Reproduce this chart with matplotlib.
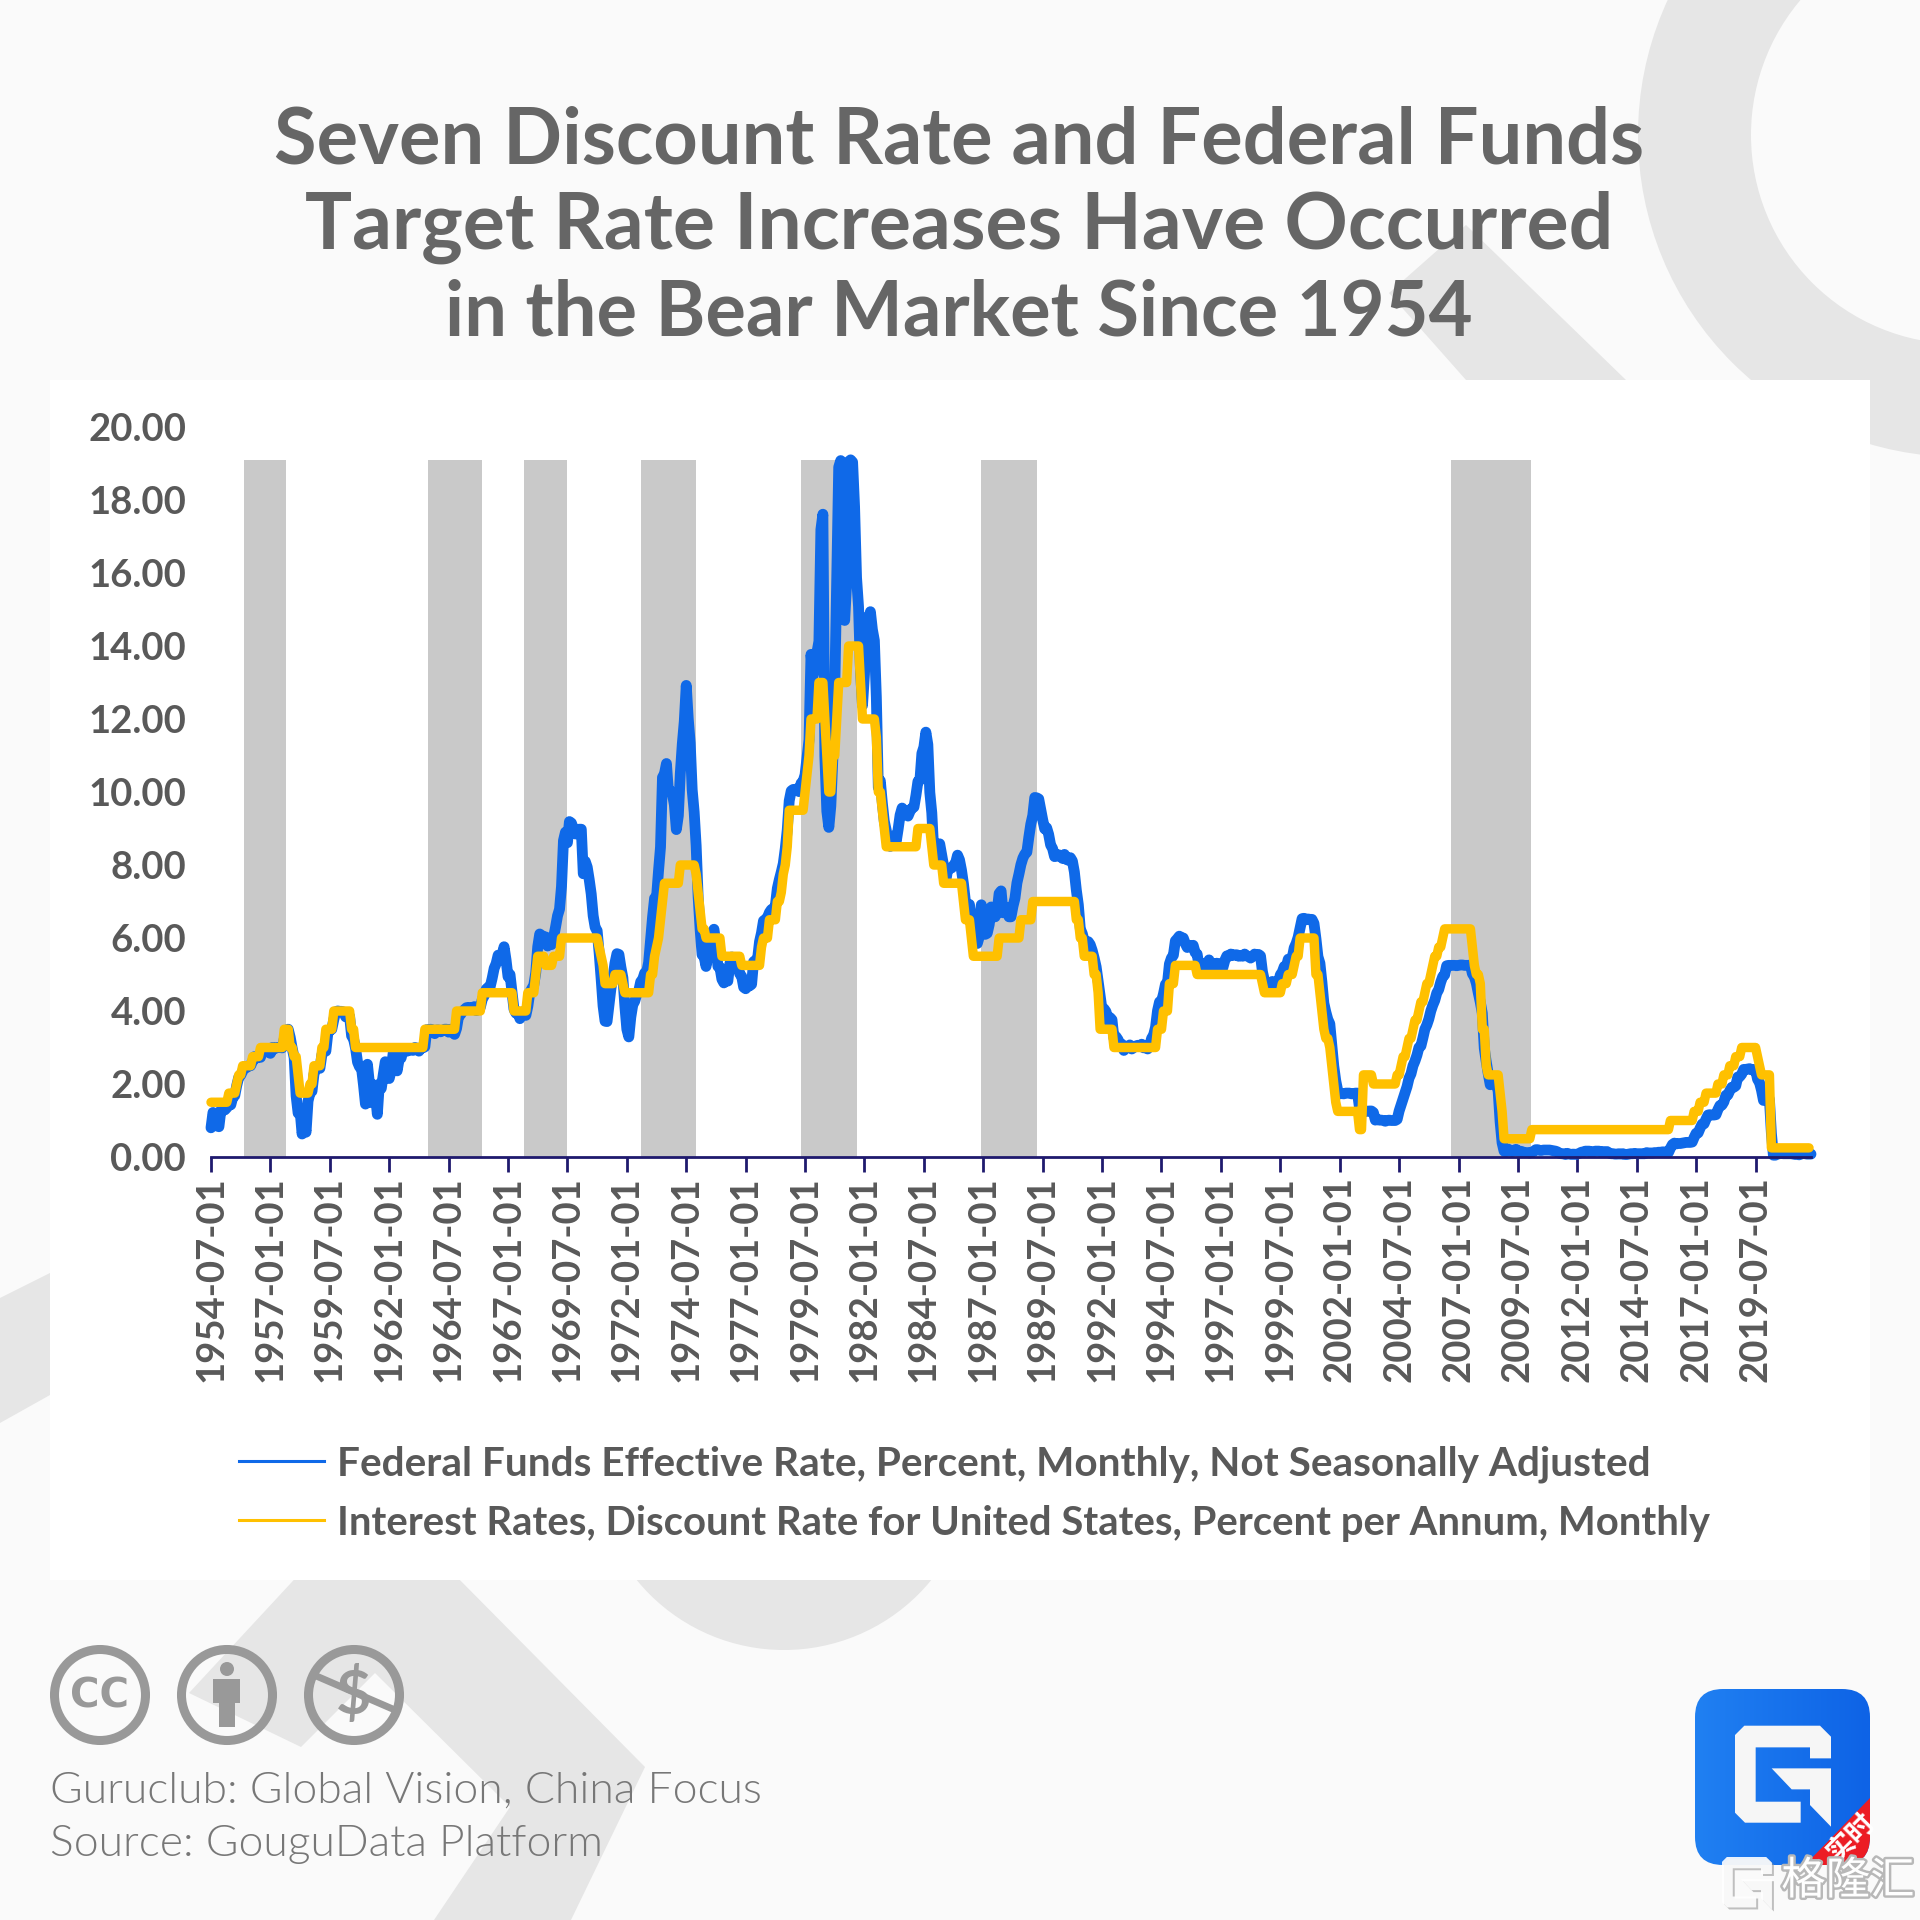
import numpy as np
import matplotlib
matplotlib.use('Agg')
import matplotlib.pyplot as plt
import matplotlib.patheffects as pe
from matplotlib.colors import LinearSegmentedColormap
from matplotlib.patches import Circle, FancyBboxPatch, Polygon, Rectangle

plt.rcParams['font.family'] = ['Lato', 'Noto Sans CJK SC', 'DejaVu Sans']

# monthly values, first month is 1954-07
fed_rate = [
    0.80, 1.22, 1.06, 0.85, 0.83, 1.28,
    1.39, 1.29, 1.35, 1.43, 1.43, 1.64, 1.68, 1.96, 2.18, 2.24, 2.35, 2.48,
    2.45, 2.50, 2.50, 2.62, 2.75, 2.71, 2.75, 2.73, 2.95, 2.96, 2.88, 2.94,
    2.84, 3.00, 2.96, 3.00, 3.00, 3.00, 2.99, 3.24, 3.47, 3.50, 3.28, 2.98,
    2.72, 1.67, 1.20, 1.26, 0.63, 0.93, 0.68, 1.53, 1.76, 1.80, 2.27, 2.42,
    2.48, 2.43, 2.80, 2.96, 2.90, 3.39, 3.47, 3.50, 3.76, 3.98, 4.00, 3.99,
    3.99, 3.97, 3.84, 3.92, 3.85, 3.32, 3.23, 2.98, 2.60, 2.47, 2.44, 1.98,
    1.45, 2.54, 2.02, 1.49, 1.98, 1.73, 1.17, 2.00, 1.88, 2.26, 2.61, 2.33,
    2.15, 2.37, 2.85, 2.78, 2.36, 2.68, 2.71, 2.93, 2.90, 2.90, 2.94, 2.93,
    2.92, 3.00, 2.98, 2.90, 3.00, 2.99, 3.02, 3.49, 3.48, 3.50, 3.48, 3.38,
    3.48, 3.48, 3.43, 3.47, 3.50, 3.50, 3.42, 3.50, 3.45, 3.36, 3.52, 3.85,
    3.90, 3.98, 4.04, 4.09, 4.10, 4.04, 4.09, 4.12, 4.01, 4.08, 4.10, 4.32,
    4.42, 4.60, 4.65, 4.67, 4.90, 5.17, 5.30, 5.53, 5.40, 5.53, 5.76, 5.40,
    4.94, 5.00, 4.53, 4.05, 3.94, 3.98, 3.79, 3.90, 3.99, 3.88, 4.13, 4.51,
    4.61, 4.71, 5.05, 5.76, 6.11, 6.07, 6.02, 6.03, 5.78, 5.91, 5.82, 6.02,
    6.30, 6.61, 6.79, 7.41, 8.67, 8.90, 8.61, 9.19, 9.15, 9.00, 8.85, 8.97,
    8.98, 8.98, 7.76, 8.10, 7.94, 7.60, 7.21, 6.61, 6.29, 6.20, 5.60, 4.90,
    4.14, 3.72, 3.71, 4.16, 4.63, 4.91, 5.31, 5.57, 5.55, 5.20, 4.91, 4.14,
    3.50, 3.29, 3.83, 4.17, 4.27, 4.46, 4.55, 4.80, 4.87, 5.04, 5.06, 5.33,
    5.94, 6.58, 7.09, 7.12, 7.84, 8.49, 10.40, 10.50, 10.78, 10.01, 10.03, 9.95,
    9.65, 8.97, 9.35, 10.51, 11.31, 11.93, 12.92, 12.01, 11.34, 10.06, 9.45, 8.53,
    7.13, 6.24, 5.54, 5.49, 5.22, 5.55, 6.10, 6.14, 6.24, 5.82, 5.22, 5.20,
    4.87, 4.77, 4.84, 4.82, 5.29, 5.48, 5.31, 5.29, 5.25, 5.02, 4.95, 4.65,
    4.61, 4.68, 4.69, 4.73, 5.35, 5.39, 5.42, 5.90, 6.14, 6.47, 6.51, 6.56,
    6.70, 6.78, 6.79, 6.89, 7.36, 7.60, 7.81, 8.04, 8.45, 8.96, 9.76, 10.03,
    10.07, 10.06, 10.09, 10.01, 10.24, 10.29, 10.47, 10.94, 11.43, 13.77, 13.18, 13.78,
    13.82, 14.13, 17.19, 17.61, 10.98, 9.47, 9.03, 9.61, 10.87, 12.81, 15.85, 18.90,
    19.08, 15.93, 14.70, 15.72, 19.05, 19.10, 19.04, 17.82, 15.87, 15.08, 13.31, 12.37,
    13.22, 14.78, 14.68, 14.94, 14.45, 14.15, 12.59, 10.12, 10.31, 9.71, 9.20, 8.95,
    8.68, 8.51, 8.77, 8.80, 8.63, 8.98, 9.37, 9.56, 9.45, 9.48, 9.34, 9.47,
    9.56, 9.59, 9.91, 10.29, 10.32, 11.06, 11.23, 11.64, 11.30, 9.99, 9.43, 8.38,
    8.35, 8.50, 8.58, 8.27, 7.97, 7.53, 7.88, 7.90, 7.92, 7.99, 8.05, 8.27,
    8.14, 7.86, 7.48, 6.99, 6.85, 6.92, 6.56, 6.17, 5.89, 5.85, 6.04, 6.91,
    6.43, 6.10, 6.13, 6.37, 6.85, 6.73, 6.58, 6.73, 7.22, 7.29, 6.69, 6.77,
    6.83, 6.58, 6.58, 6.87, 7.09, 7.51, 7.75, 8.01, 8.19, 8.30, 8.35, 8.76,
    9.12, 9.36, 9.85, 9.84, 9.81, 9.53, 9.24, 8.99, 9.02, 8.84, 8.55, 8.45,
    8.23, 8.24, 8.28, 8.26, 8.18, 8.29, 8.15, 8.13, 8.20, 8.11, 7.81, 7.31,
    6.91, 6.25, 6.12, 5.91, 5.78, 5.90, 5.82, 5.66, 5.45, 5.21, 4.81, 4.43,
    4.03, 4.06, 3.98, 3.73, 3.82, 3.76, 3.25, 3.30, 3.22, 3.10, 3.09, 2.92,
    3.02, 3.03, 3.07, 2.96, 3.00, 3.04, 3.06, 3.03, 3.09, 2.99, 3.02, 2.96,
    3.05, 3.25, 3.34, 3.56, 4.01, 4.25, 4.26, 4.47, 4.73, 4.76, 5.29, 5.45,
    5.53, 5.92, 5.98, 6.05, 6.01, 6.00, 5.85, 5.74, 5.80, 5.76, 5.80, 5.60,
    5.56, 5.22, 5.31, 5.22, 5.24, 5.27, 5.40, 5.22, 5.30, 5.24, 5.31, 5.29,
    5.25, 5.19, 5.39, 5.51, 5.50, 5.56, 5.52, 5.54, 5.54, 5.50, 5.52, 5.50,
    5.56, 5.51, 5.49, 5.45, 5.49, 5.56, 5.54, 5.55, 5.51, 5.07, 4.83, 4.68,
    4.63, 4.76, 4.81, 4.74, 4.74, 4.76, 4.99, 5.07, 5.22, 5.20, 5.42, 5.30,
    5.45, 5.73, 5.85, 6.02, 6.27, 6.53, 6.54, 6.50, 6.52, 6.51, 6.51, 6.40,
    5.98, 5.49, 5.31, 4.80, 4.21, 3.97, 3.77, 3.65, 3.07, 2.49, 2.09, 1.82,
    1.73, 1.74, 1.73, 1.75, 1.75, 1.75, 1.73, 1.74, 1.75, 1.75, 1.34, 1.24,
    1.24, 1.26, 1.25, 1.26, 1.26, 1.22, 1.01, 1.03, 1.01, 1.01, 1.00, 0.98,
    1.00, 1.01, 1.00, 1.00, 1.00, 1.03, 1.26, 1.43, 1.61, 1.76, 1.93, 2.16,
    2.28, 2.50, 2.63, 2.79, 3.00, 3.04, 3.26, 3.50, 3.62, 3.78, 4.00, 4.16,
    4.29, 4.49, 4.59, 4.79, 4.94, 4.99, 5.24, 5.25, 5.25, 5.25, 5.25, 5.24,
    5.25, 5.26, 5.26, 5.25, 5.25, 5.25, 5.26, 5.02, 4.94, 4.76, 4.49, 4.24,
    3.94, 2.98, 2.61, 2.28, 1.98, 2.00, 2.01, 2.00, 1.81, 0.97, 0.39, 0.16,
    0.15, 0.22, 0.18, 0.15, 0.18, 0.21, 0.16, 0.16, 0.15, 0.12, 0.12, 0.12,
    0.11, 0.13, 0.16, 0.20, 0.20, 0.18, 0.18, 0.19, 0.19, 0.19, 0.19, 0.18,
    0.17, 0.16, 0.14, 0.10, 0.09, 0.09, 0.07, 0.10, 0.08, 0.07, 0.08, 0.07,
    0.08, 0.10, 0.13, 0.14, 0.16, 0.16, 0.16, 0.13, 0.14, 0.16, 0.16, 0.16,
    0.14, 0.15, 0.14, 0.15, 0.11, 0.09, 0.09, 0.08, 0.08, 0.09, 0.08, 0.09,
    0.07, 0.07, 0.08, 0.09, 0.09, 0.10, 0.09, 0.09, 0.09, 0.09, 0.09, 0.12,
    0.11, 0.11, 0.11, 0.12, 0.12, 0.13, 0.13, 0.14, 0.14, 0.12, 0.12, 0.24,
    0.34, 0.38, 0.36, 0.37, 0.37, 0.38, 0.39, 0.40, 0.40, 0.40, 0.41, 0.54,
    0.65, 0.66, 0.79, 0.90, 0.91, 1.04, 1.15, 1.16, 1.15, 1.15, 1.16, 1.30,
    1.41, 1.42, 1.51, 1.69, 1.70, 1.82, 1.91, 1.91, 1.95, 2.19, 2.20, 2.27,
    2.40, 2.40, 2.41, 2.42, 2.39, 2.38, 2.40, 2.13, 2.04, 1.83, 1.55, 1.55,
    1.55, 1.58, 0.65, 0.05, 0.05, 0.08, 0.09, 0.10, 0.09, 0.09, 0.09, 0.09,
    0.09, 0.08, 0.07, 0.07, 0.06, 0.08, 0.10, 0.09, 0.08, 0.08, 0.08,
]

discount_rate = [
    1.5, 1.5, 1.5, 1.5, 1.5, 1.5,
    1.5, 1.5, 1.5, 1.75, 1.75, 1.75, 1.75, 2, 2.25, 2.25, 2.5, 2.5,
    2.5, 2.5, 2.5, 2.75, 2.75, 2.75, 2.75, 3, 3, 3, 3, 3,
    3, 3, 3, 3, 3, 3, 3, 3.5, 3.5, 3.5, 3, 3,
    2.75, 2.75, 2.25, 1.75, 1.75, 1.75, 1.75, 1.75, 2, 2, 2.5, 2.5,
    2.5, 2.5, 3, 3, 3.5, 3.5, 3.5, 3.5, 4, 4, 4, 4,
    4, 4, 4, 4, 4, 3.5, 3.5, 3, 3, 3, 3, 3,
    3, 3, 3, 3, 3, 3, 3, 3, 3, 3, 3, 3,
    3, 3, 3, 3, 3, 3, 3, 3, 3, 3, 3, 3,
    3, 3, 3, 3, 3, 3, 3.5, 3.5, 3.5, 3.5, 3.5, 3.5,
    3.5, 3.5, 3.5, 3.5, 3.5, 3.5, 3.5, 3.5, 3.5, 3.5, 4, 4,
    4, 4, 4, 4, 4, 4, 4, 4, 4, 4, 4, 4.5,
    4.5, 4.5, 4.5, 4.5, 4.5, 4.5, 4.5, 4.5, 4.5, 4.5, 4.5, 4.5,
    4.5, 4.5, 4.5, 4, 4, 4, 4, 4, 4, 4, 4.5, 4.5,
    4.5, 4.5, 5, 5.5, 5.5, 5.5, 5.5, 5.25, 5.25, 5.25, 5.25, 5.5,
    5.5, 5.5, 5.5, 6, 6, 6, 6, 6, 6, 6, 6, 6,
    6, 6, 6, 6, 6, 6, 6, 6, 6, 6, 5.75, 5.5,
    5.25, 4.75, 4.75, 4.75, 4.75, 4.75, 5, 5, 5, 5, 4.75, 4.5,
    4.5, 4.5, 4.5, 4.5, 4.5, 4.5, 4.5, 4.5, 4.5, 4.5, 4.5, 4.5,
    5, 5, 5.5, 5.75, 6, 6.5, 7, 7.5, 7.5, 7.5, 7.5, 7.5,
    7.5, 7.5, 7.5, 8, 8, 8, 8, 8, 8, 8, 8, 7.75,
    7.25, 6.75, 6.25, 6.25, 6, 6, 6, 6, 6, 6, 6, 6,
    5.5, 5.5, 5.5, 5.5, 5.5, 5.5, 5.5, 5.5, 5.5, 5.5, 5.25, 5.25,
    5.25, 5.25, 5.25, 5.25, 5.25, 5.25, 5.25, 5.25, 5.75, 6, 6, 6,
    6.5, 6.5, 6.5, 6.5, 7, 7, 7.25, 7.75, 8, 8.5, 9.5, 9.5,
    9.5, 9.5, 9.5, 9.5, 9.5, 9.5, 10, 10.5, 11, 12, 12, 12,
    12, 13, 13, 13, 12, 11, 10, 10, 11, 11, 12, 13,
    13, 13, 13, 13, 14, 14, 14, 14, 14, 14, 13, 12,
    12, 12, 12, 12, 12, 12, 11.5, 10, 10, 9.5, 9, 8.5,
    8.5, 8.5, 8.5, 8.5, 8.5, 8.5, 8.5, 8.5, 8.5, 8.5, 8.5, 8.5,
    8.5, 8.5, 8.5, 9, 9, 9, 9, 9, 9, 9, 8.5, 8,
    8, 8, 8, 8, 7.5, 7.5, 7.5, 7.5, 7.5, 7.5, 7.5, 7.5,
    7.5, 7.5, 7, 6.5, 6.5, 6.5, 6, 5.5, 5.5, 5.5, 5.5, 5.5,
    5.5, 5.5, 5.5, 5.5, 5.5, 5.5, 5.5, 5.5, 6, 6, 6, 6,
    6, 6, 6, 6, 6, 6, 6, 6.5, 6.5, 6.5, 6.5, 6.5,
    6.5, 7, 7, 7, 7, 7, 7, 7, 7, 7, 7, 7,
    7, 7, 7, 7, 7, 7, 7, 7, 7, 7, 7, 6.5,
    6.5, 6, 6, 5.5, 5.5, 5.5, 5.5, 5.5, 5, 5, 4.5, 3.5,
    3.5, 3.5, 3.5, 3.5, 3.5, 3.5, 3, 3, 3, 3, 3, 3,
    3, 3, 3, 3, 3, 3, 3, 3, 3, 3, 3, 3,
    3, 3, 3, 3, 3.5, 3.5, 3.5, 4, 4, 4, 4.75, 4.75,
    4.75, 5.25, 5.25, 5.25, 5.25, 5.25, 5.25, 5.25, 5.25, 5.25, 5.25, 5.25,
    5, 5, 5, 5, 5, 5, 5, 5, 5, 5, 5, 5,
    5, 5, 5, 5, 5, 5, 5, 5, 5, 5, 5, 5,
    5, 5, 5, 5, 5, 5, 5, 5, 5, 4.75, 4.5, 4.5,
    4.5, 4.5, 4.5, 4.5, 4.5, 4.5, 4.5, 4.75, 4.75, 4.75, 5, 5,
    5, 5.25, 5.5, 5.5, 6, 6, 6, 6, 6, 6, 6, 6,
    5, 5, 4.5, 4, 3.5, 3.25, 3.25, 3, 2.5, 2, 1.5, 1.25,
    1.25, 1.25, 1.25, 1.25, 1.25, 1.25, 1.25, 1.25, 1.25, 1.25, 0.75, 0.75,
    2.25, 2.25, 2.25, 2.25, 2.25, 2, 2, 2, 2, 2, 2, 2,
    2, 2, 2, 2, 2, 2.25, 2.25, 2.5, 2.75, 2.75, 3, 3.25,
    3.25, 3.5, 3.75, 3.75, 4, 4.25, 4.25, 4.5, 4.75, 4.75, 5, 5.25,
    5.5, 5.5, 5.75, 5.75, 6, 6.25, 6.25, 6.25, 6.25, 6.25, 6.25, 6.25,
    6.25, 6.25, 6.25, 6.25, 6.25, 6.25, 6.25, 5.75, 5.25, 5, 5, 4.75,
    3.5, 3.5, 2.5, 2.25, 2.25, 2.25, 2.25, 2.25, 2.25, 1.75, 1.25, 0.5,
    0.5, 0.5, 0.5, 0.5, 0.5, 0.5, 0.5, 0.5, 0.5, 0.5, 0.5, 0.5,
    0.5, 0.75, 0.75, 0.75, 0.75, 0.75, 0.75, 0.75, 0.75, 0.75, 0.75, 0.75,
    0.75, 0.75, 0.75, 0.75, 0.75, 0.75, 0.75, 0.75, 0.75, 0.75, 0.75, 0.75,
    0.75, 0.75, 0.75, 0.75, 0.75, 0.75, 0.75, 0.75, 0.75, 0.75, 0.75, 0.75,
    0.75, 0.75, 0.75, 0.75, 0.75, 0.75, 0.75, 0.75, 0.75, 0.75, 0.75, 0.75,
    0.75, 0.75, 0.75, 0.75, 0.75, 0.75, 0.75, 0.75, 0.75, 0.75, 0.75, 0.75,
    0.75, 0.75, 0.75, 0.75, 0.75, 0.75, 0.75, 0.75, 0.75, 0.75, 0.75, 1,
    1, 1, 1, 1, 1, 1, 1, 1, 1, 1, 1, 1.25,
    1.25, 1.25, 1.5, 1.5, 1.5, 1.75, 1.75, 1.75, 1.75, 1.75, 1.75, 2,
    2, 2, 2.25, 2.25, 2.25, 2.5, 2.5, 2.5, 2.75, 2.75, 2.75, 3,
    3, 3, 3, 3, 3, 3, 3, 2.75, 2.5, 2.25, 2.25, 2.25,
    2.25, 2.25, 0.25, 0.25, 0.25, 0.25, 0.25, 0.25, 0.25, 0.25, 0.25, 0.25,
    0.25, 0.25, 0.25, 0.25, 0.25, 0.25, 0.25, 0.25, 0.25, 0.25,
]

# bear market bands, in months since 1954-07
band_start = [16.5, 109.5, 158, 217, 298, 389, 626]
band_end = [38, 137, 180, 245, 326, 417, 666.5]
band_top = 19.1

tick_labels = ['1954-07-01', '1957-01-01', '1959-07-01', '1962-01-01', '1964-07-01', '1967-01-01',
               '1969-07-01', '1972-01-01', '1974-07-01', '1977-01-01', '1979-07-01', '1982-01-01',
               '1984-07-01', '1987-01-01', '1989-07-01', '1992-01-01', '1994-07-01', '1997-01-01',
               '1999-07-01', '2002-01-01', '2004-07-01', '2007-01-01', '2009-07-01', '2012-01-01',
               '2014-07-01', '2017-01-01', '2019-07-01']
y_ticks = [0, 2, 4, 6, 8, 10, 12, 14, 16, 18, 20]

title_lines = ['Seven Discount Rate and Federal Funds',
               'Target Rate Increases Have Occurred',
               'in the Bear Market Since 1954']
title_sizes = [55.8, 56.6, 54.6]
fed_label = 'Federal Funds Effective Rate, Percent, Monthly, Not Seasonally Adjusted'
discount_label = 'Interest Rates, Discount Rate for United States, Percent per Annum, Monthly'

BLUE = '#0f69e8'
YELLOW = '#ffc000'
DARK = '#595959'
NAVY = '#1f1a6e'
DECO = '#e6e6e6'

fig = plt.figure(figsize=(19.2, 19.2), dpi=100, facecolor='#fafafa')

# background layer, in picture pixels
bg = fig.add_axes([0, 0, 1, 1])
bg.set_xlim(0, 1920)
bg.set_ylim(1920, 0)
bg.axis('off')

bg.add_patch(Circle((1960, 135), 322, fc=DECO, ec='none'))
bg.add_patch(Circle((1960, 135), 209, fc='#fafafa', ec='none'))
bg.add_patch(Polygon([(1389, 293), (1466, 225), (1626, 380), (1466, 380)], fc=DECO, ec='none'))
bg.add_patch(Polygon([(0, 1298), (50, 1273), (50, 1395), (0, 1423)], fc=DECO, ec='none'))
bg.add_patch(Circle((784, 1460), 190, fc=DECO, ec='none'))
bg.add_patch(Polygon([(303, 1570), (450, 1570), (645, 1767), (571, 1920), (434, 1920), (510, 1807),
                      (375, 1673), (301, 1747), (189, 1693)], fc=DECO, ec='none'))
bg.add_patch(Rectangle((50, 380), 1820, 1200, fc='white', ec='none'))

for i, line in enumerate(title_lines):
    bg.text(959, 141 + i * 86.5, line, ha='center', va='center', fontsize=title_sizes[i],
            fontweight='bold', color='#666666')

# legend
bg.plot([239, 324], [1461, 1461], color=BLUE, lw=2.2)
bg.plot([239, 324], [1520, 1520], color=YELLOW, lw=2.2)
bg.text(337, 1464, fed_label, ha='left', va='center', fontsize=29.2, fontweight='bold', color=DARK)
bg.text(337, 1523, discount_label, ha='left', va='center', fontsize=28.8, fontweight='bold', color=DARK)

# cc icons
ICON = '#999999'
for cx in [100, 227, 354]:
    bg.add_patch(Circle((cx, 1695), 45.5, fc='none', ec=ICON, lw=6.5))
bg.text(100, 1697, 'CC', ha='center', va='center', fontsize=29, fontweight='bold', color=ICON, family='DejaVu Sans')
bg.add_patch(Circle((227, 1669), 7, fc=ICON, ec='none'))
bg.add_patch(Polygon([(213, 1679), (240, 1679), (240, 1703), (235, 1703), (235, 1727), (219, 1727),
                      (219, 1703), (213, 1703)], fc=ICON, ec='none'))
bg.text(354, 1695, '$', ha='center', va='center', fontsize=44, fontweight='bold', color=ICON)
bg.plot([314, 395], [1675, 1710], color=ICON, lw=5, solid_capstyle='butt')

bg.text(50, 1791, 'Guruclub: Global Vision, China Focus', ha='left', va='center',
        fontsize=32, fontweight=300, color='#777777')
bg.text(50, 1844, 'Source: GouguData Platform', ha='left', va='center',
        fontsize=32, fontweight=300, color='#777777')

# logo
logo_box = FancyBboxPatch((1720, 1714), 125, 126, boxstyle='round,pad=25,rounding_size=28', fc='none', ec='none')
bg.add_patch(logo_box)
logo_cmap = LinearSegmentedColormap.from_list('logo', ['#2080f2', '#0e63e6'])
grad = bg.imshow(np.linspace(0, 1, 64)[None, :], cmap=logo_cmap, extent=(1695, 1870, 1865, 1689), aspect='auto')
grad.set_clip_path(logo_box)
bg.set_xlim(0, 1920)
bg.set_ylim(1920, 0)
ribbon = Polygon([(1870, 1798), (1805, 1865), (1805, 1870), (1870, 1870)], fc='#ec1c24', ec='none')
bg.add_patch(ribbon)
ribbon.set_clip_path(logo_box)


def g_mark(x0, y0, scale, **kw):
    piece_a = [(255, 225), (283, 197), (510, 197), (543, 230), (543, 295), (480, 295), (480, 262), (317, 262),
               (317, 425), (452, 425), (452, 488), (285, 488), (255, 458)]
    piece_b = [(365, 325), (543, 325), (543, 500), (480, 435), (480, 388), (425, 388)]
    for piece in [piece_a, piece_b]:
        pts = [(x0 + (p[0] - 255) / 3 * scale, y0 + (p[1] - 197) / 3 * scale) for p in piece]
        bg.add_patch(Polygon(pts, closed=True, ec='none', **kw))


g_mark(1735, 1725.7, 1.0, fc='#f6f6f6')
bg.text(1851, 1838, '实时', ha='center', va='center', rotation=45, fontsize=20, color='white',
        family=['Noto Sans CJK SC', 'DejaVu Sans'], fontweight='bold')

g_mark(1722 + 2, 1857 + 2, 0.52, fc='#999999', alpha=0.6)
g_mark(1722, 1857, 0.52, fc='white', alpha=0.9)
bg.text(1848, 1881, '格隆汇', ha='center', va='center', fontsize=32, color='white',
        family=['Noto Sans CJK SC', 'DejaVu Sans'],
        path_effects=[pe.withStroke(linewidth=3.5, foreground='#b8b8b8')])

# chart, axis runs 211..1811 px across and 1157..427 px up
ax = fig.add_axes([211 / 1920, (1920 - 1157) / 1920, 1600 / 1920, 730 / 1920])
ax.patch.set_alpha(0)
x_fed = np.arange(len(fed_rate))
x_discount = np.arange(len(discount_rate))

for s, e in zip(band_start, band_end):
    ax.fill_between([s, e], 0, band_top, color='#c9c9c9', lw=0, zorder=1)

ax.plot(x_fed, fed_rate, color=BLUE, lw=7.8, solid_joinstyle='round', solid_capstyle='round',
        clip_on=False, zorder=2, label=fed_label)
ax.plot(x_discount, discount_rate, color=YELLOW, lw=6.8, solid_joinstyle='round', solid_capstyle='round',
        clip_on=False, zorder=2.1, label=discount_label)

ax.set_xlim(0, len(fed_rate) - 1)
ax.set_ylim(0, 20)
for side in ['top', 'right', 'left']:
    ax.spines[side].set_visible(False)
ax.spines['bottom'].set_color(NAVY)
ax.spines['bottom'].set_linewidth(2)
ax.spines['bottom'].set_zorder(5)

ax.set_xticks(np.arange(len(tick_labels)) * 30)
ax.set_xticklabels(tick_labels, rotation=90, fontsize=27.5, fontweight='bold', color=DARK)
ax.set_yticks(y_ticks)
ax.set_yticklabels(['%.2f' % v for v in y_ticks], fontsize=27.5, fontweight='bold', color=DARK)
ax.tick_params(axis='x', length=11, width=2, color=NAVY, pad=3)
ax.tick_params(axis='y', length=0, pad=18)

plt.savefig('out.png', dpi=100, facecolor=fig.get_facecolor())
